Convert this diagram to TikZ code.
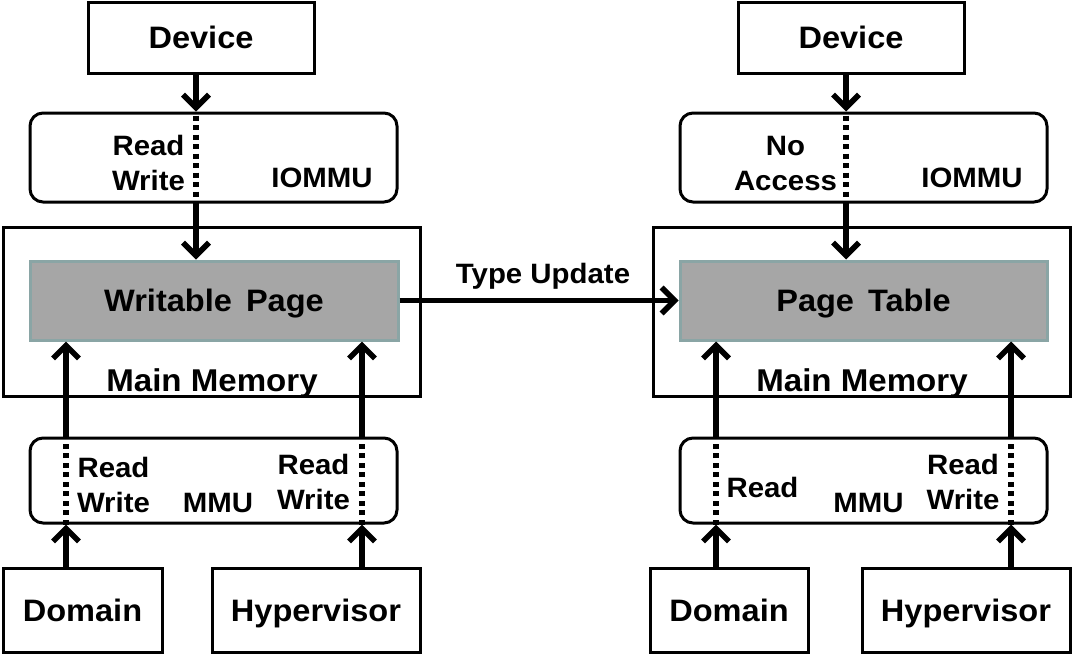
\documentclass[tikz,border=0pt]{standalone}
\usepackage{fontspec}
\setmainfont[FakeStretch=1.05]{Liberation Sans}
\usetikzlibrary{arrows.meta}

\begin{document}
\begin{tikzpicture}[x=1pt, y=-1pt,
  box/.style={draw, line width=3pt, inner sep=0pt, text depth=0pt, font=\fontsize{31}{33}\selectfont\bfseries},
  unit/.style={draw, line width=3pt, rounded corners=13pt, inner sep=0pt},
  page/.style={draw=pageedge, fill=pagegray, line width=3pt, inner sep=0pt, text depth=0pt, font=\fontsize{31}{33}\selectfont\bfseries},
  lbl/.style={inner sep=0pt, align=center, font=\fontsize{28}{35}\selectfont\bfseries},
  memlbl/.style={inner sep=0pt, font=\fontsize{31.5}{33}\selectfont\bfseries},
  flow/.style={line width=5.5pt, -{Straight Barb[length=13pt, width=26pt]}},
  pass/.style={line width=5.5pt, dash pattern=on 5pt off 4.5pt}]

% Define colors
\definecolor{pagegray}{RGB}{166,166,166}
\definecolor{pageedge}{RGB}{138,165,165}

\useasboundingbox (0,0) rectangle (1073,654);

% Left side: writable page
\node[box, minimum width=226pt, minimum height=71pt] (devL) at (201,37.5) {Device};
\node[unit, minimum width=367pt, minimum height=89pt] (iommuL) at (213.5,157.5) {};
\node[box, minimum width=417pt, minimum height=169pt] (memL) at (211.5,311.5) {};
\node[page, minimum width=368pt, minimum height=79pt] (pageL) at (214,300.5) {Writable\hspace{5pt} Page};
\node[unit, minimum width=367pt, minimum height=85pt] (mmuL) at (213.5,480.5) {};
\node[box, minimum width=159pt, minimum height=84pt] (domL) at (82.5,610) {Domain};
\node[box, minimum width=208pt, minimum height=84pt] (hypL) at (316,610) {Hypervisor};

% Right side: page table
\node[box, minimum width=226pt, minimum height=71pt] (devR) at (851,37.5) {Device};
\node[unit, minimum width=367pt, minimum height=89pt] (iommuR) at (863.5,157.5) {};
\node[box, minimum width=417pt, minimum height=169pt] (memR) at (861.5,311.5) {};
\node[page, minimum width=367pt, minimum height=79pt] (pageR) at (863.5,300.5) {Page\hspace{5pt} Table};
\node[unit, minimum width=367pt, minimum height=85pt] (mmuR) at (863.5,480.5) {};
\node[box, minimum width=158pt, minimum height=84pt] (domR) at (729,610) {Domain};
\node[box, minimum width=208pt, minimum height=84pt] (hypR) at (966,610) {Hypervisor};

% Labels inside the units
\node[lbl] (rwIoL) at (148.5,163) {Read\\Write};
\node[lbl, anchor=base] (ioL) at (322,187) {IOMMU};
\node[memlbl, anchor=base] (memTxtL) at (212,391) {Main Memory};
\node[lbl] (rwDomL) at (113.5,485) {Read\\Write};
\node[lbl, anchor=base] (mmuTxtL) at (218,512) {MMU};
\node[lbl] (rwHypL) at (313.5,482) {Read\\Write};

\node[lbl] (naIoR) at (785.5,163) {No\\Access};
\node[lbl, anchor=base] (ioR) at (972,187) {IOMMU};
\node[memlbl, anchor=base] (memTxtR) at (862,391) {Main Memory};
\node[lbl, anchor=base] (rDomR) at (762.5,497) {Read};
\node[lbl, anchor=base] (mmuTxtR) at (868.5,512) {MMU};
\node[lbl] (rwHypR) at (963,482) {Read\\Write};

% Access paths
\coordinate (xDevL) at (196,0);
\coordinate (xDomL) at (66,0);
\coordinate (xHypL) at (362,0);
\coordinate (xDevR) at (846,0);
\coordinate (xDomR) at (716,0);
\coordinate (xHypR) at (1011,0);

\draw[flow] (devL.south -| xDevL) -- (iommuL.north -| xDevL);
\draw[pass] ([yshift=-4pt]iommuL.north -| xDevL) -- (iommuL.south -| xDevL);
\draw[flow] (iommuL.south -| xDevL) -- (pageL.north -| xDevL);

\draw[flow] (domL.north -| xDomL) -- (mmuL.south -| xDomL);
\draw[pass] (mmuL.south -| xDomL) -- ([yshift=4pt]mmuL.north -| xDomL);
\draw[flow] (mmuL.north -| xDomL) -- (pageL.south -| xDomL);

\draw[flow] (hypL.north -| xHypL) -- (mmuL.south -| xHypL);
\draw[pass] (mmuL.south -| xHypL) -- ([yshift=4pt]mmuL.north -| xHypL);
\draw[flow] (mmuL.north -| xHypL) -- (pageL.south -| xHypL);

\draw[flow] (devR.south -| xDevR) -- (iommuR.north -| xDevR);
\draw[pass] ([yshift=-4pt]iommuR.north -| xDevR) -- (iommuR.south -| xDevR);
\draw[flow] (iommuR.south -| xDevR) -- (pageR.north -| xDevR);

\draw[flow] (domR.north -| xDomR) -- (mmuR.south -| xDomR);
\draw[pass] (mmuR.south -| xDomR) -- ([yshift=4pt]mmuR.north -| xDomR);
\draw[flow] (mmuR.north -| xDomR) -- (pageR.south -| xDomR);

\draw[flow] (hypR.north -| xHypR) -- (mmuR.south -| xHypR);
\draw[pass] (mmuR.south -| xHypR) -- ([yshift=4pt]mmuR.north -| xHypR);
\draw[flow] (mmuR.north -| xHypR) -- (pageR.south -| xHypR);

% Type update between the pages
\draw[flow] (pageL.east) -- (pageR.west) node[lbl, midway, above=8pt, xshift=4pt] {Type Update};

\end{tikzpicture}
\end{document}
